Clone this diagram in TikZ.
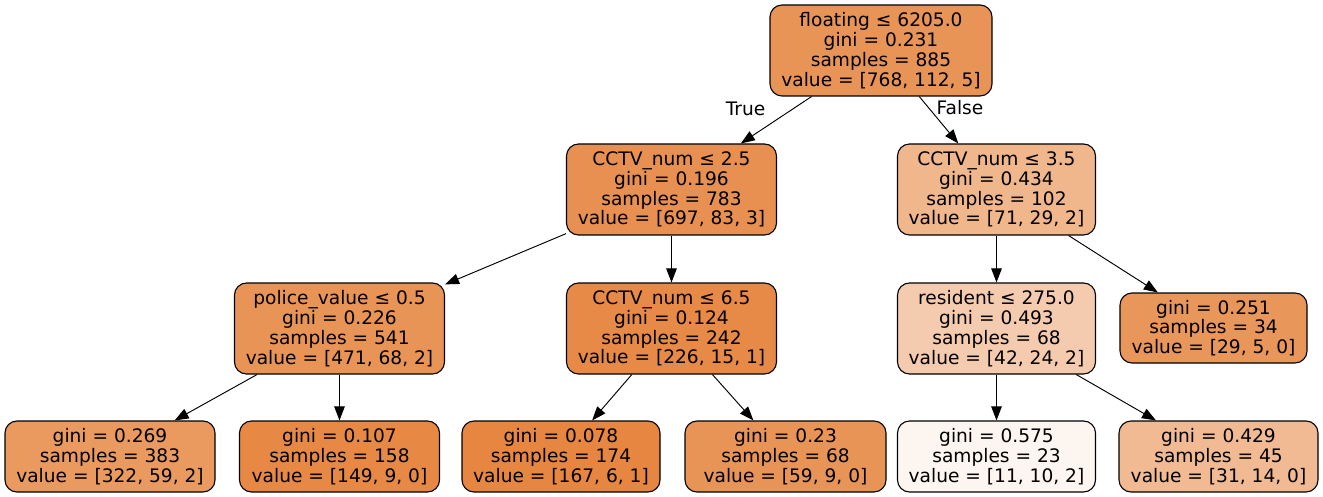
\documentclass[tikz,border=0pt]{standalone}
\usepackage{fontspec}
\setmainfont{DejaVu Sans}
\usetikzlibrary{arrows.meta}
\definecolor{cls}{RGB}{229,129,57}
\tikzset{
  tnode/.style={draw=black, line width=1.1pt, rounded corners=12pt, align=center,
    inner sep=0pt, text=black, font=\fontsize{18.6}{19.8}\selectfont},
  edge/.style={line width=0.95pt, -{Triangle[length=14pt,width=10.5pt]}},
  elab/.style={font=\fontsize{18.6}{20}\selectfont, inner sep=0pt}
}
\begin{document}
\begin{tikzpicture}[x=1pt,y=-1pt]
\useasboundingbox (0,0) rectangle (1323,497);
% level 0
\node[tnode, fill=cls!85, minimum width=222pt, minimum height=91pt] (n0) at (881,50.5)
  {floating ≤ 6205.0\\gini = 0.231\\samples = 885\\value = [768, 112, 5]};
% level 1
\node[tnode, fill=cls!88, minimum width=210pt, minimum height=91pt] (n1) at (671.5,189.5)
  {CCTV\_num ≤ 2.5\\gini = 0.196\\samples = 783\\value = [697, 83, 3]};
\node[tnode, fill=cls!58, minimum width=198pt, minimum height=91pt] (n8) at (996.5,189.5)
  {CCTV\_num ≤ 3.5\\gini = 0.434\\samples = 102\\value = [71, 29, 2]};
% level 2
\node[tnode, fill=cls!85, minimum width=210pt, minimum height=91pt] (n2) at (339.5,328.5)
  {police\_value ≤ 0.5\\gini = 0.226\\samples = 541\\value = [471, 68, 2]};
\node[tnode, fill=cls!93, minimum width=210pt, minimum height=91pt] (n5) at (671.5,328.5)
  {CCTV\_num ≤ 6.5\\gini = 0.124\\samples = 242\\value = [226, 15, 1]};
\node[tnode, fill=cls!41, minimum width=198pt, minimum height=91pt] (n9) at (996.5,328.5)
  {resident ≤ 275.0\\gini = 0.493\\samples = 68\\value = [42, 24, 2]};
\node[tnode, fill=cls!83, minimum width=187pt, minimum height=70pt] (n12) at (1213.5,328)
  {gini = 0.251\\samples = 34\\value = [29, 5, 0]};
% level 3
\node[tnode, fill=cls!81, minimum width=210pt, minimum height=71pt] (n3) at (110,456.5)
  {gini = 0.269\\samples = 383\\value = [322, 59, 2]};
\node[tnode, fill=cls!94, minimum width=200pt, minimum height=71pt] (n4) at (339.5,456.5)
  {gini = 0.107\\samples = 158\\value = [149, 9, 0]};
\node[tnode, fill=cls!96, minimum width=198pt, minimum height=71pt] (n6) at (561,456.5)
  {gini = 0.078\\samples = 174\\value = [167, 6, 1]};
\node[tnode, fill=cls!85, minimum width=201pt, minimum height=71pt] (n7) at (785.5,456.5)
  {gini = 0.23\\samples = 68\\value = [59, 9, 0]};
\node[tnode, fill=cls!8, minimum width=198pt, minimum height=71pt] (n10) at (996.5,456.5)
  {gini = 0.575\\samples = 23\\value = [11, 10, 2]};
\node[tnode, fill=cls!55, minimum width=199pt, minimum height=71pt] (n11) at (1218.5,456.5)
  {gini = 0.429\\samples = 45\\value = [31, 14, 0]};
% edges
\draw[edge] (n0) -- (n1);
\draw[edge] (n0) -- (n8);
\draw[edge] (n1) -- (n2);
\draw[edge] (n1) -- (n5);
\draw[edge] (n2) -- (n3);
\draw[edge] (n2) -- (n4);
\draw[edge] (n5) -- (n6);
\draw[edge] (n5) -- (n7);
\draw[edge] (n8) -- (n9);
\draw[edge] (n8) -- (n12);
\draw[edge] (n9) -- (n10);
\draw[edge] (n9) -- (n11);
% labels
\node[elab] (tl) at (745.5,109) {True};
\node[elab] (fl) at (960,108) {False};
\end{tikzpicture}
\end{document}
